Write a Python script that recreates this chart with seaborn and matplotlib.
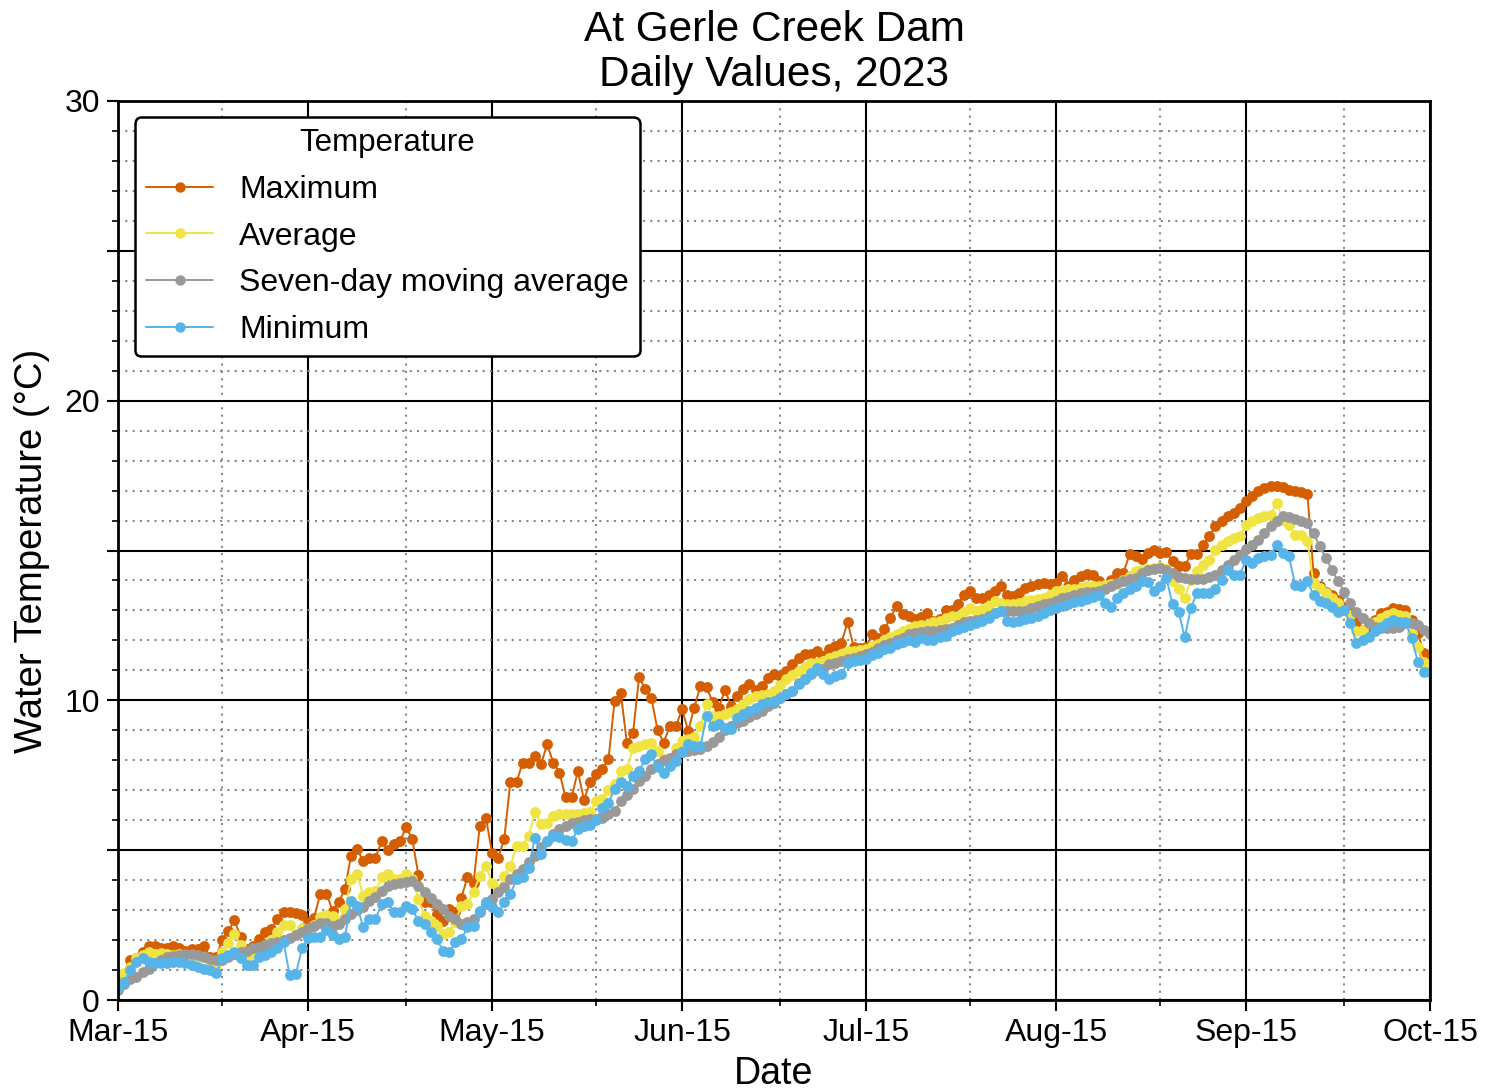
import numpy as np
import pandas as pd
import matplotlib
matplotlib.use("Agg")
import matplotlib.pyplot as plt
import matplotlib.dates as mdates
from matplotlib.ticker import MultipleLocator, FuncFormatter
import seaborn as sns

# daily values, Mar-15 .. Oct-15 2023
dates = pd.date_range("2023-03-15", "2023-10-15", freq="D")

t_max = [
    0.75, 0.85, 1.33, 1.4, 1.6, 1.8, 1.8, 1.75, 1.75, 1.8,
    1.75, 1.65, 1.7, 1.7, 1.8, 1.45, 1.45, 2.0, 2.3, 2.67,
    2.1, 1.7, 1.8, 2.05, 2.28, 2.36, 2.7, 2.95, 2.95, 2.9,
    2.83, 2.6, 2.75, 3.55, 3.55, 2.98, 3.26, 3.7, 4.8, 5.03,
    4.64, 4.75, 4.75, 5.3, 5.0, 5.2, 5.3, 5.76, 5.37, 4.17,
    3.26, 3.26, 2.87, 2.64, 3.03, 2.92, 3.42, 4.09, 3.92, 5.8,
    6.09, 4.92, 4.75, 5.37, 7.28, 7.26, 7.92, 7.92, 8.14, 7.87,
    8.53, 7.92, 7.59, 6.76, 6.76, 7.64, 6.68, 7.26, 7.53, 7.7,
    8.03, 9.98, 10.26, 8.59, 8.9, 10.79, 10.37, 10.09, 9.01, 8.59,
    9.14, 9.14, 9.7, 8.98, 9.76, 10.48, 10.44, 9.94, 9.76, 10.34,
    9.81, 10.14, 10.37, 10.53, 10.35, 10.48, 10.76, 10.87, 10.81, 10.98,
    11.2, 11.4, 11.53, 11.53, 11.64, 11.48, 11.7, 11.81, 11.92, 12.61,
    11.79, 11.76, 11.79, 12.2, 12.07, 12.37, 12.76, 13.14, 12.87, 12.83,
    12.7, 12.79, 12.92, 12.64, 12.7, 13.03, 13.03, 13.2, 13.53, 13.64,
    13.42, 13.42, 13.53, 13.64, 13.81, 13.53, 13.48, 13.59, 13.76, 13.81,
    13.87, 13.9, 13.87, 13.9, 14.14, 13.81, 14.03, 14.14, 14.2, 14.17,
    13.98, 13.81, 14.03, 14.26, 14.26, 14.87, 14.83, 14.72, 14.92, 15.01,
    14.9, 14.94, 14.64, 14.48, 14.48, 14.87, 14.87, 15.19, 15.47, 15.81,
    15.97, 16.14, 16.25, 16.42, 16.64, 16.81, 16.98, 17.09, 17.14, 17.14,
    17.12, 17.03, 16.98, 16.94, 16.9, 14.25, 13.8, 13.63, 13.52, 13.35,
    13.13, 12.96, 12.63, 12.35, 12.46, 12.69, 12.91, 12.96, 13.08, 13.05,
    13.02, 12.69, 12.24, 11.57, 11.4,
]

t_avg = [
    0.55, 0.9, 1.1, 1.4, 1.5, 1.6, 1.55, 1.58, 1.55, 1.5,
    1.55, 1.5, 1.5, 1.45, 1.45, 1.3, 1.17, 1.6, 1.9, 2.2,
    1.83, 1.4, 1.55, 1.7, 1.85, 2.0, 2.28, 2.5, 2.5, 2.2,
    2.4, 2.3, 2.5, 2.78, 2.83, 2.81, 2.64, 3.03, 4.03, 4.2,
    3.48, 3.59, 3.64, 4.09, 4.2, 4.03, 4.03, 4.2, 4.03, 3.37,
    2.81, 2.64, 2.48, 2.2, 2.26, 2.59, 3.14, 3.2, 3.6, 4.14,
    4.48, 3.92, 3.7, 4.14, 4.48, 5.14, 5.14, 5.48, 6.26, 5.87,
    5.92, 6.14, 6.2, 6.2, 6.2, 6.2, 6.25, 6.28, 6.64, 6.7,
    7.0, 7.2, 7.64, 7.7, 8.42, 8.48, 8.53, 8.59, 8.3, 8.03,
    7.98, 8.42, 8.64, 8.7, 8.76, 9.14, 9.87, 9.48, 9.48, 9.53,
    9.6, 9.7, 9.87, 10.03, 10.14, 10.17, 10.2, 10.31, 10.5, 10.7,
    10.85, 10.98, 11.1, 11.26, 11.26, 11.31, 11.4, 11.48, 11.55, 11.64,
    11.64, 11.68, 11.72, 11.8, 11.87, 12.03, 12.1, 12.2, 12.3, 12.37,
    12.48, 12.5, 12.53, 12.6, 12.64, 12.76, 12.8, 12.81, 12.95, 13.09,
    12.98, 13.05, 13.14, 13.31, 13.26, 13.2, 13.2, 13.25, 13.3, 13.35,
    13.38, 13.42, 13.5, 13.64, 13.67, 13.7, 13.73, 13.76, 13.8, 13.81,
    13.81, 13.85, 13.87, 13.87, 14.0, 14.14, 14.3, 14.34, 14.39, 14.42,
    14.46, 14.39, 13.98, 13.7, 13.42, 14.03, 14.31, 14.5, 14.69, 15.03,
    15.19, 15.31, 15.42, 15.5, 15.86, 15.97, 16.09, 16.14, 16.2, 16.59,
    16.03, 15.86, 15.53, 15.53, 15.31, 13.91, 13.74, 13.58, 13.41, 13.24,
    13.02, 12.85, 12.3, 12.35, 12.57, 12.63, 12.74, 12.85, 12.91, 12.85,
    12.8, 12.24, 11.79, 11.29, 11.2,
]

t_7day = [
    0.35, 0.55, 0.7, 0.78, 0.95, 1.05, 1.25, 1.35, 1.44, 1.48,
    1.5, 1.52, 1.53, 1.5, 1.44, 1.38, 1.33, 1.35, 1.44, 1.52,
    1.6, 1.65, 1.72, 1.78, 1.83, 1.9, 1.95, 2.0, 2.08, 2.17,
    2.28, 2.4, 2.48, 2.56, 2.58, 2.48, 2.53, 2.7, 2.87, 3.0,
    3.09, 3.3, 3.45, 3.64, 3.8, 3.87, 3.9, 3.95, 3.98, 3.81,
    3.6, 3.42, 3.2, 3.03, 2.8, 2.7, 2.55, 2.6, 2.7, 2.92,
    3.2, 3.37, 3.6, 3.76, 4.03, 4.2, 4.37, 4.6, 4.8, 5.09,
    5.3, 5.53, 5.7, 5.81, 5.9, 5.95, 6.0, 6.03, 6.05, 6.09,
    6.2, 6.31, 6.64, 6.85, 7.03, 7.3, 7.48, 7.7, 7.87, 8.0,
    8.09, 8.2, 8.26, 8.31, 8.35, 8.39, 8.48, 8.6, 8.76, 9.0,
    9.14, 9.25, 9.31, 9.45, 9.53, 9.64, 9.81, 9.92, 10.09, 10.2,
    10.31, 10.59, 10.7, 10.87, 11.0, 11.03, 11.2, 11.25, 11.31, 11.37,
    11.4, 11.48, 11.55, 11.61, 11.76, 11.85, 11.92, 12.0, 12.09, 12.2,
    12.25, 12.28, 12.3, 12.31, 12.34, 12.38, 12.42, 12.53, 12.6, 12.64,
    12.68, 12.7, 12.81, 12.92, 12.98, 12.98, 12.98, 12.98, 12.98, 13.09,
    13.15, 13.2, 13.25, 13.31, 13.42, 13.45, 13.5, 13.57, 13.6, 13.61,
    13.65, 13.7, 13.81, 13.9, 13.98, 14.05, 14.09, 14.26, 14.35, 14.39,
    14.42, 14.35, 14.25, 14.12, 14.08, 14.06, 14.04, 14.04, 14.1, 14.19,
    14.35, 14.5, 14.69, 14.86, 15.05, 15.19, 15.36, 15.58, 15.81, 16.0,
    16.14, 16.12, 16.05, 16.0, 15.92, 15.58, 15.14, 14.75, 14.36, 13.97,
    13.63, 13.24, 12.96, 12.74, 12.57, 12.46, 12.43, 12.41, 12.41, 12.46,
    12.57, 12.57, 12.52, 12.35, 12.2,
]

t_min = [
    0.39, 0.6, 1.0, 1.28, 1.39, 1.28, 1.25, 1.22, 1.25, 1.28,
    1.28, 1.25, 1.17, 1.1, 1.05, 1.0, 0.89, 1.39, 1.5, 1.61,
    1.39, 1.17, 1.17, 1.44, 1.5, 1.61, 1.72, 1.94, 0.83, 0.86,
    1.72, 2.06, 2.1, 2.1, 2.33, 2.17, 2.03, 2.09, 3.31, 3.14,
    2.42, 2.7, 2.7, 3.2, 3.26, 2.92, 2.92, 3.14, 3.03, 2.64,
    2.53, 2.26, 2.03, 1.64, 1.59, 1.92, 2.03, 2.42, 2.48, 2.98,
    3.26, 3.09, 2.92, 3.26, 3.53, 4.03, 4.09, 4.42, 5.42, 4.87,
    5.31, 5.48, 5.45, 5.35, 5.3, 5.7, 5.8, 5.85, 6.0, 6.42,
    6.59, 7.03, 7.26, 7.14, 7.48, 7.64, 8.03, 8.2, 7.76, 7.59,
    7.81, 7.98, 8.26, 8.53, 8.48, 8.48, 9.48, 9.14, 9.2, 9.09,
    9.03, 9.42, 9.53, 9.64, 9.76, 9.87, 9.95, 9.98, 10.09, 10.2,
    10.31, 10.55, 10.7, 10.92, 11.09, 10.87, 10.7, 10.81, 10.87, 11.26,
    11.31, 11.35, 11.37, 11.5, 11.59, 11.7, 11.76, 11.87, 11.95, 12.03,
    11.94, 12.09, 12.03, 12.03, 12.1, 12.14, 12.31, 12.37, 12.45, 12.53,
    12.59, 12.64, 12.76, 12.92, 12.98, 12.64, 12.61, 12.65, 12.7, 12.75,
    12.81, 12.92, 13.0, 13.09, 13.15, 13.2, 13.28, 13.3, 13.37, 13.45,
    13.53, 13.26, 13.12, 13.42, 13.59, 13.7, 13.83, 13.98, 13.94, 13.64,
    13.81, 14.09, 13.2, 12.95, 12.1, 13.09, 13.59, 13.59, 13.57, 13.7,
    14.02, 14.36, 14.19, 14.19, 14.69, 14.58, 14.75, 14.8, 14.86, 15.19,
    14.92, 14.8, 13.86, 13.8, 13.97, 13.52, 13.3, 13.24, 13.13, 12.96,
    13.02, 12.57, 11.91, 12.02, 12.13, 12.3, 12.46, 12.57, 12.69, 12.63,
    12.6, 12.08, 11.29, 10.96, 10.96,
]

df = pd.DataFrame({
    "Date": dates,
    "Maximum": t_max,
    "Average": t_avg,
    "Seven-day moving average": t_7day,
    "Minimum": t_min,
})

COLORS = {
    "Maximum": "#D55E00",
    "Average": "#F0E442",
    "Seven-day moving average": "#999999",
    "Minimum": "#56B4E9",
}

sns.set_theme(style="white")
plt.rcParams["font.family"] = ["Liberation Sans", "DejaVu Sans"]
plt.rcParams.update({
    "text.color": "black",
    "axes.labelcolor": "black",
    "xtick.color": "black",
    "ytick.color": "black",
})

fig = plt.figure(figsize=(14.87, 10.92), dpi=100)
ax = fig.add_axes([118 / 1487, 1 - 1000 / 1092, 1312 / 1487, 899 / 1092])

for name, col in COLORS.items():
    sns.lineplot(data=df, x="Date", y=name, ax=ax, color=col, marker="o",
                 markersize=7.8, markeredgewidth=0, linewidth=1.4, label=name)

ax.set_xlim(pd.Timestamp("2023-03-15"), pd.Timestamp("2023-10-15"))
ax.set_ylim(0, 30)

ax.xaxis.set_major_locator(mdates.MonthLocator(bymonthday=15))
ax.xaxis.set_minor_locator(mdates.MonthLocator(bymonthday=1))
ax.xaxis.set_major_formatter(mdates.DateFormatter("%b-%d"))
ax.yaxis.set_major_locator(MultipleLocator(5))
ax.yaxis.set_minor_locator(MultipleLocator(1))
ax.yaxis.set_major_formatter(FuncFormatter(lambda v, p: f"{int(v)}" if v % 10 == 0 else ""))

ax.grid(which="major", color="black", linewidth=1.5, linestyle="-")
ax.grid(which="minor", color="#888888", linewidth=1.5, linestyle=(0, (1, 2.5)))
ax.set_axisbelow(True)

ax.tick_params(which="major", direction="out", length=8, width=1.5, labelsize=23,
               bottom=True, left=True, color="black", pad=5)
ax.tick_params(which="minor", direction="out", length=4, width=1.2,
               bottom=True, left=True, color="black")
for sp in ax.spines.values():
    sp.set_color("black")
    sp.set_linewidth(2)

ax.set_xlabel("Date", fontsize=27, labelpad=6)
ax.set_ylabel("Water Temperature (°C)", fontsize=27.5, labelpad=10)
ax.set_title("At Gerle Creek Dam\nDaily Values, 2023", fontsize=30.5, pad=11, linespacing=1.15)

leg = ax.legend(title="Temperature", loc="upper left", bbox_to_anchor=(0.013, 0.982),
                borderaxespad=0, fontsize=23, title_fontsize=22.5, frameon=True,
                fancybox=True, handlelength=2.1, labelspacing=0.52, borderpad=0.35,
                handletextpad=0.8)
leg.get_frame().set_edgecolor("black")
leg.get_frame().set_linewidth(1.8)
leg.get_frame().set_alpha(1)
for h in leg.legend_handles:
    h.set_markersize(7.5)

fig.savefig("out.png", dpi=100)
